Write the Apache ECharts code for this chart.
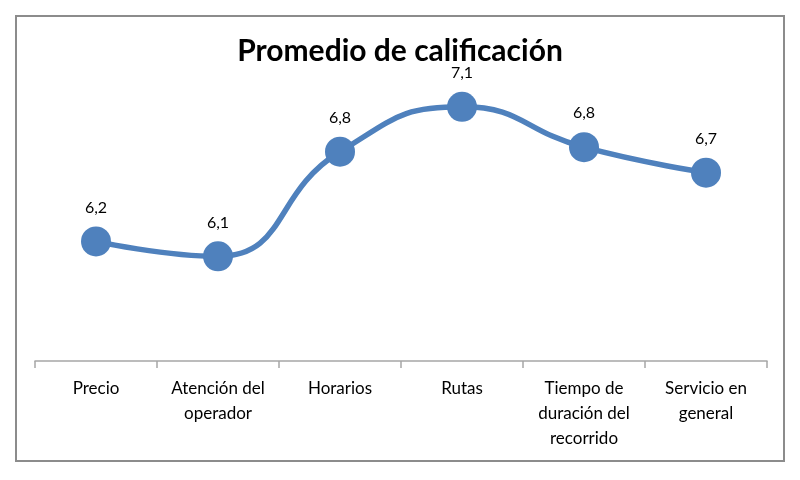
<!DOCTYPE html>
<html>
<head>
<meta charset="utf-8">
<script src="https://cdn.jsdelivr.net/npm/echarts@6/dist/echarts.min.js"></script>
<style>
  html, body { margin: 0; padding: 0; background: #fff; }
  #frame { position: absolute; left: 15px; top: 15px; width: 766px; height: 443px; border: 2px solid #8c8c8c; }
  #chart { position: absolute; left: 0; top: 0; width: 800px; height: 480px; }
</style>
</head>
<body>
<div id="frame"></div>
<div id="chart"></div>
<script>
// categorias y valores
var categorias = ['Precio', 'Atención del\noperador', 'Horarios', 'Rutas', 'Tiempo de\nduración del\nrecorrido', 'Servicio en\ngeneral'];
var promedios = [6.2, 6.1, 6.8, 7.1, 6.83, 6.66];

var myChart = echarts.init(document.getElementById('chart'));
var option = {
    animation: false,
    title: {
        text: 'Promedio de calificación',
        left: 'center',
        top: 31,
        textStyle: { fontFamily: 'Lato', fontWeight: 'bold', fontSize: 30, color: '#000' }
    },
    grid: { left: 35, right: 33, top: 62, bottom: 119 },
    xAxis: {
        type: 'category',
        data: categorias,
        boundaryGap: true,
        axisLine: { lineStyle: { color: '#a6a6a6', width: 1.5 } },
        axisTick: { show: true, length: 7, lineStyle: { color: '#a6a6a6', width: 1.5 } },
        axisLabel: { fontFamily: 'Lato', fontSize: 17, color: '#000', lineHeight: 25, margin: 15, interval: 0 }
    },
    yAxis: {
        type: 'value',
        min: 5.4,
        max: 7.4,
        show: false,
        splitLine: { show: false }
    },
    series: [{
        type: 'line',
        data: promedios,
        smooth: 0.5,
        symbol: 'circle',
        symbolSize: 30,
        lineStyle: { color: '#4f81bd', width: 5.5 },
        itemStyle: { color: '#4f81bd' },
        label: {
            show: true,
            position: 'top',
            distance: 11,
            fontFamily: 'Lato',
            fontSize: 16,
            color: '#000',
            formatter: function (p) { return p.value.toFixed(1).replace('.', ','); }
        }
    }]
};
myChart.setOption(option);
</script>
</body>
</html>
